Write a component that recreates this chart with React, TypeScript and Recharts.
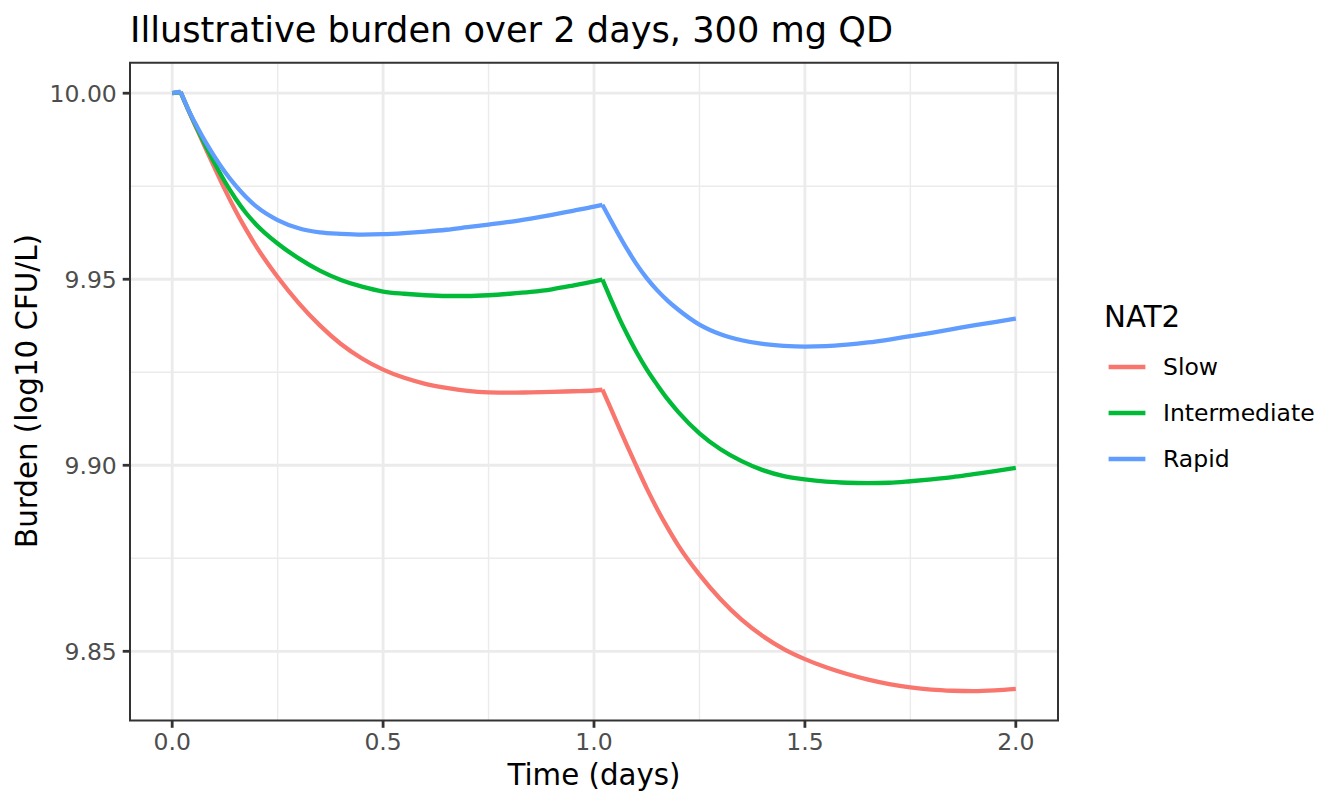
import { LineChart, Line, XAxis, YAxis, CartesianGrid, ReferenceArea, Legend } from "recharts";

// Time grid (days) and burden values (log10 CFU/L)
const times = [
  0, 0.02, 0.04, 0.06, 0.08, 0.1, 0.125, 0.15, 0.175, 0.2, 0.25, 0.3, 0.35, 0.4, 0.45, 0.5,
  0.55, 0.6, 0.65, 0.7, 0.75, 0.8, 0.85, 0.9, 0.95, 1.0, 1.02, 1.04, 1.06, 1.08, 1.1, 1.125,
  1.15, 1.175, 1.2, 1.25, 1.3, 1.35, 1.4, 1.45, 1.5, 1.55, 1.6, 1.65, 1.7, 1.75, 1.8, 1.85,
  1.9, 1.95, 2.0,
];

const slow = [
  10.0, 10.0003, 9.995, 9.99, 9.985, 9.9801, 9.9741, 9.9685, 9.9634, 9.9587, 9.9506, 9.9436,
  9.9376, 9.9326, 9.9287, 9.9257, 9.9235, 9.9219, 9.9208, 9.92, 9.9196, 9.9195, 9.9196,
  9.9197, 9.9199, 9.9201, 9.9203, 9.9152, 9.91, 9.9049, 9.8999, 9.8938, 9.8882, 9.8831,
  9.8784, 9.8706, 9.864, 9.8585, 9.8541, 9.8506, 9.8479, 9.8457, 9.8439, 9.8424, 9.8412,
  9.8403, 9.8397, 9.8394, 9.8393, 9.8395, 9.8399,
];

const intermediate = [
  10.0, 10.0003, 9.9951, 9.9903, 9.9857, 9.9813, 9.9762, 9.9717, 9.9678, 9.9646, 9.9596,
  9.9556, 9.9523, 9.9498, 9.948, 9.9467, 9.9461, 9.9457, 9.9455, 9.9455, 9.9457, 9.9461,
  9.9466, 9.9473, 9.9483, 9.9494, 9.9499, 9.9446, 9.9395, 9.9349, 9.9306, 9.9258, 9.9216,
  9.9177, 9.9143, 9.9086, 9.9043, 9.9011, 9.8987, 9.8971, 9.8962, 9.8956, 9.8953, 9.8952,
  9.8953, 9.8957, 9.8962, 9.8968, 9.8976, 9.8984, 9.8993,
];

const rapid = [
  10.0, 10.0004, 9.9952, 9.9908, 9.9867, 9.983, 9.9788, 9.9752, 9.9721, 9.9695, 9.9659,
  9.9637, 9.9626, 9.9622, 9.962, 9.9621, 9.9624, 9.9628, 9.9633, 9.964, 9.9647, 9.9654,
  9.9663, 9.9673, 9.9684, 9.9695, 9.97, 9.9658, 9.9617, 9.9578, 9.9542, 9.9503, 9.947,
  9.9442, 9.9418, 9.9378, 9.9352, 9.9336, 9.9326, 9.9321, 9.9319, 9.932, 9.9324, 9.933,
  9.9338, 9.9347, 9.9356, 9.9366, 9.9376, 9.9385, 9.9394,
];

// first dose starts acting after a short lag, second dose at ~1.02 d
const LAG_END = 0.02;
const DOSE2 = 1.02;

const xTicks = [0, 0.5, 1, 1.5, 2];
const xMinor = [0.25, 0.75, 1.25, 1.75];
const yTicks = [9.85, 9.9, 9.95, 10];
const yMinor = [9.875, 9.925, 9.975];

const X_DOMAIN: [number, number] = [-0.1, 2.1];
const Y_DOMAIN: [number, number] = [9.8314, 10.0082];

const series = [
  { key: "slow", name: "Slow", color: "#F8766D", values: slow },
  { key: "intermediate", name: "Intermediate", color: "#00BA38", values: intermediate },
  { key: "rapid", name: "Rapid", color: "#619CFF", values: rapid },
];

// split each curve at the dosing kinks so the smooth pieces keep sharp corners
const rows = times.map((t, i) => {
  const row: Record<string, number | null> = { t };
  series.forEach((s) => {
    const v = s.values[i];
    row[`${s.key}_lag`] = t <= LAG_END + 1e-9 ? v : null;
    row[`${s.key}_d1`] = t >= LAG_END - 1e-9 && t <= DOSE2 + 1e-9 ? v : null;
    row[`${s.key}_d2`] = t >= DOSE2 - 1e-9 ? v : null;
  });
  return row;
});

const FONT = "'DejaVu Sans', Verdana, sans-serif";
const GRID = "#EBEBEB";
const LW = 4.3;

function NatLegend() {
  return (
    <svg width={244} height={200} style={{ display: "block" }}>
      <text x={4} y={37} fontSize={29.3} fontFamily={FONT} fill="#000">
        NAT2
      </text>
      {series.map((s, i) => {
        const y = 77 + i * 46;
        return (
          <g key={s.key}>
            <line x1={8.6} x2={45.4} y1={y} y2={y} stroke={s.color} strokeWidth={LW} />
            <text x={63} y={y} dy="0.355em" fontSize={23.5} fontFamily={FONT} fill="#000">
              {s.name}
            </text>
          </g>
        );
      })}
    </svg>
  );
}

export default function App() {
  return (
    <div style={{ position: "relative", width: 1344, height: 806, background: "#fff", fontFamily: FONT }}>
      <style>{"body{margin:0}"}</style>
      <LineChart
        width={1344}
        height={806}
        data={rows}
        margin={{ top: 62.7, right: 286, bottom: 45.5, left: 50 }}
      >
        <CartesianGrid
          stroke={GRID}
          strokeWidth={1.4}
          horizontalValues={yMinor}
          verticalValues={xMinor}
        />
        <CartesianGrid
          stroke={GRID}
          strokeWidth={2.8}
          horizontalValues={yTicks}
          verticalValues={xTicks}
        />
        <XAxis
          dataKey="t"
          type="number"
          domain={X_DOMAIN}
          ticks={xTicks}
          allowDataOverflow
          height={40}
          axisLine={false}
          tickSize={7.3}
          tickMargin={5.9}
          tickLine={{ stroke: "#333333", strokeWidth: 2.8 }}
          tick={{ fill: "#4D4D4D", fontSize: 23.5, fontFamily: FONT }}
          tickFormatter={(v: number) => v.toFixed(1)}
        />
        <YAxis
          type="number"
          domain={Y_DOMAIN}
          ticks={yTicks}
          allowDataOverflow
          width={80}
          axisLine={false}
          tickSize={7.3}
          tickMargin={5.9}
          tickLine={{ stroke: "#333333", strokeWidth: 2.8 }}
          tick={{ fill: "#4D4D4D", fontSize: 23.5, fontFamily: FONT }}
          tickFormatter={(v: number) => v.toFixed(2)}
        />
        {series.flatMap((s) =>
          (["lag", "d1", "d2"] as const).map((part) => (
            <Line
              key={`${s.key}_${part}`}
              dataKey={`${s.key}_${part}`}
              name={s.name}
              type={part === "lag" ? "linear" : "monotone"}
              stroke={s.color}
              strokeWidth={LW}
              strokeLinejoin="round"
              dot={false}
              activeDot={false}
              legendType="none"
              isAnimationActive={false}
            />
          ))
        )}
        <ReferenceArea
          x1={X_DOMAIN[0]}
          x2={X_DOMAIN[1]}
          y1={Y_DOMAIN[0]}
          y2={Y_DOMAIN[1]}
          fill="none"
          stroke="#333333"
          strokeWidth={2}
          ifOverflow="visible"
        />
        <Legend
          layout="vertical"
          align="center"
          verticalAlign="middle"
          content={() => <NatLegend />}
          wrapperStyle={{ left: 1100, top: 290, width: 244, height: 200 }}
        />
      </LineChart>
      <svg
        width={1344}
        height={806}
        style={{ position: "absolute", left: 0, top: 0, pointerEvents: "none" }}
      >
        <text x={130} y={42} fontSize={35.2} fontFamily={FONT} fill="#000">
          Illustrative burden over 2 days, 300 mg QD
        </text>
        <text x={594} y={785} fontSize={29.3} fontFamily={FONT} fill="#000" textAnchor="middle">
          Time (days)
        </text>
        <text
          x={0}
          y={0}
          fontSize={29.3}
          fontFamily={FONT}
          fill="#000"
          textAnchor="middle"
          transform="translate(37,391) rotate(-90)"
        >
          Burden (log10 CFU/L)
        </text>
      </svg>
    </div>
  );
}
